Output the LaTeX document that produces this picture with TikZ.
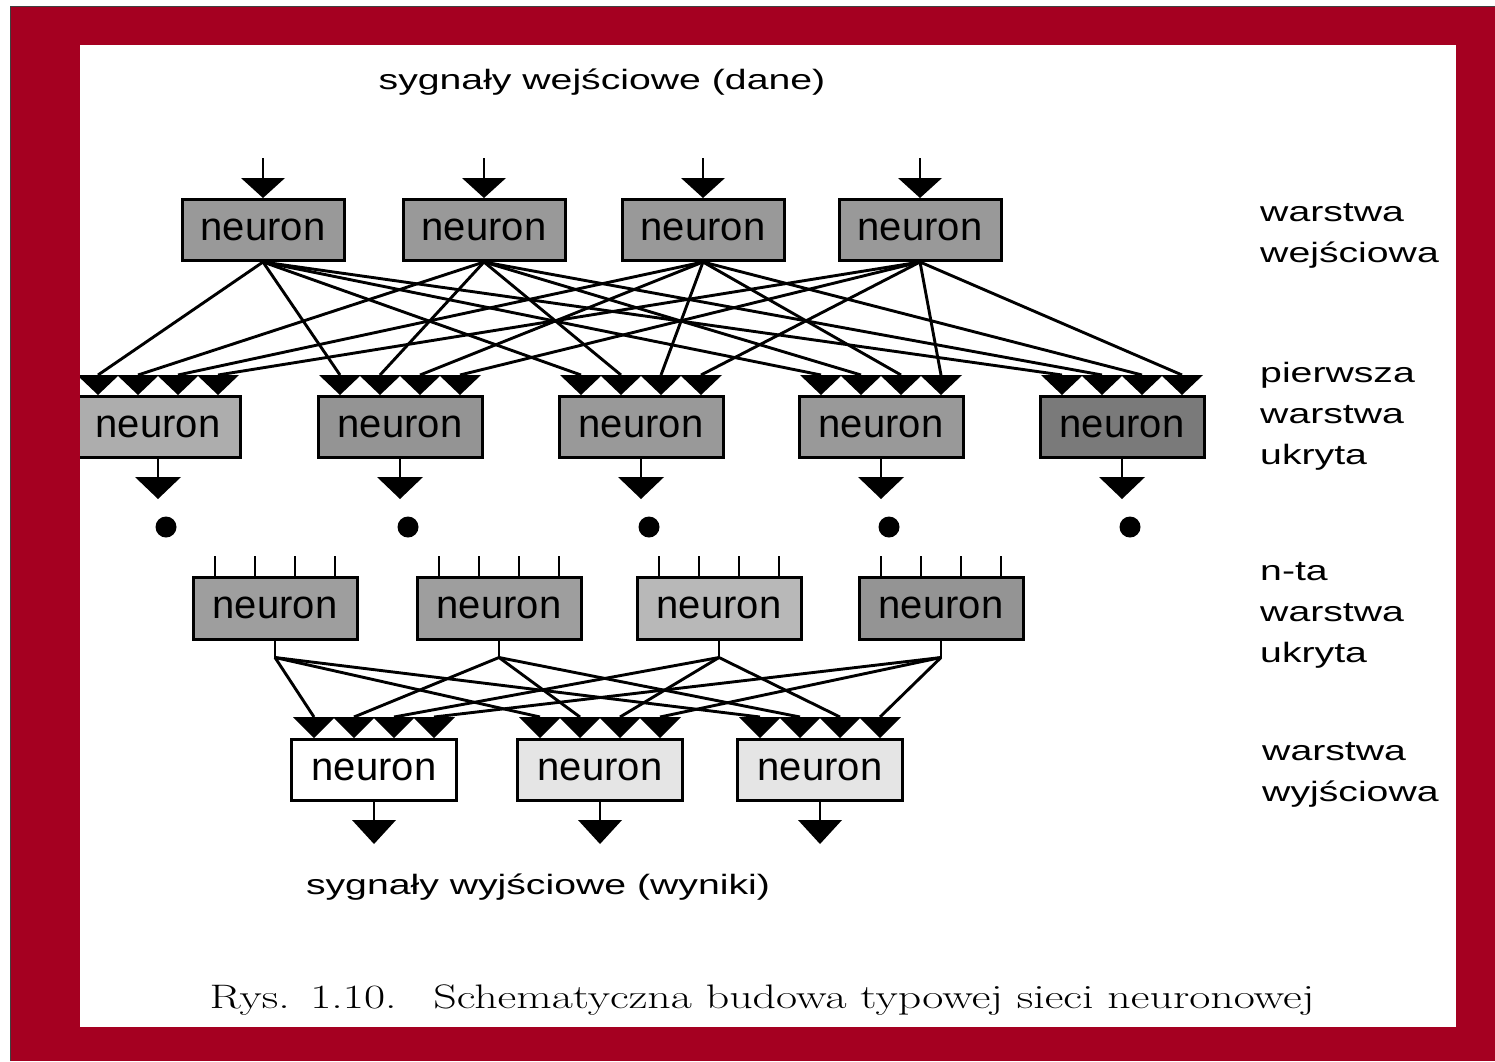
\documentclass[tikz,border=0pt]{standalone}
\usepackage{fontspec}
\newfontfamily\boxsans{Liberation Sans}
\newfontfamily\widesans[FakeStretch=1.4]{Liberation Sans}
\usetikzlibrary{calc}
\definecolor{framered}{HTML}{A50021}

\tikzset{
  nbox/.style={draw, line width=3pt, minimum width=162pt, minimum height=61pt,
    inner sep=0pt, font=\boxsans\fontsize{40}{40}\selectfont},
  conn/.style={line width=2.9pt},
  sigtext/.style={inner sep=0pt, font=\widesans\fontsize{28}{28}\selectfont},
  layerlabel/.style={inner sep=0pt, anchor=north west, align=left,
    font=\widesans\fontsize{28}{41}\selectfont},
  dotnode/.style={circle, fill, inner sep=0pt, minimum size=21pt},
  pics/arrowhd/.style args={#1/#2}{code={\fill (-#1,-#2) -- (#1,-#2) -- (0,0) -- cycle;}}
}

\begin{document}
\begin{tikzpicture}[x=1pt,y=-1pt]
\useasboundingbox (0,0) rectangle (1495,1061);
% page and red frame
\fill[white] (0,0) rectangle (1495,1061);
\fill[framered] (10,6) rectangle (1495,1061);
\draw[black!75, line width=1.5pt] (10.5,1061) -- (10.5,6.5) -- (1495,6.5);
\fill[white] (80,45) rectangle (1456,1027);

\begin{scope}
\clip (80,45) rectangle (1456,1027);

% input signals
\node[sigtext, anchor=base] (tin) at (602,89) {sygnały wejściowe (dane)};

% input layer
\node[nbox, fill=black!40] (in1) at (263,230) {neuron};
\node[nbox, fill=black!40] (in2) at (484,230) {neuron};
\node[nbox, fill=black!40] (in3) at (703,230) {neuron};
\node[nbox, fill=black!40] (in4) at (920,230) {neuron};

% first hidden layer
\node[nbox, minimum width=164pt, fill=black!32] (h1) at (158,427) {neuron};
\node[nbox, minimum width=164pt, fill=black!42] (h2) at (400,427) {neuron};
\node[nbox, minimum width=164pt, fill=black!40] (h3) at (641,427) {neuron};
\node[nbox, minimum width=164pt, fill=black!40] (h4) at (881,427) {neuron};
\node[nbox, minimum width=164pt, fill=black!52] (h5) at (1122,427) {neuron};

% n-th hidden layer
\node[nbox, minimum width=164pt, minimum height=62pt, fill=black!38] (n1) at (275,608) {neuron};
\node[nbox, minimum width=164pt, minimum height=62pt, fill=black!38] (n2) at (499,608) {neuron};
\node[nbox, minimum width=164pt, minimum height=62pt, fill=black!28] (n3) at (719,608) {neuron};
\node[nbox, minimum width=164pt, minimum height=62pt, fill=black!42] (n4) at (941,608) {neuron};

% output layer
\node[nbox, minimum width=165pt, fill=white]    (o1) at (374,770) {neuron};
\node[nbox, minimum width=165pt, fill=black!10] (o2) at (600,770) {neuron};
\node[nbox, minimum width=165pt, fill=black!10] (o3) at (820,770) {neuron};

% input arrows
\foreach \k in {1,...,4} {
  \coordinate (s\k) at ([yshift=40pt]in\k.north);
  \draw[conn] (s\k) -- ([yshift=20pt]in\k.north);
  \pic at (in\k.north) {arrowhd=22/20};
}

% inputs of the first hidden layer
\foreach \j in {1,...,5} {
  \foreach \i/\off in {1/-60,2/-20,3/20,4/60} {
    \coordinate (h\j t\i) at ([xshift=\off pt,yshift=20pt]h\j.north);
    \pic at ([xshift=\off pt]h\j.north) {arrowhd=21/20};
  }
}
\foreach \i in {1,...,4} {
  \foreach \j in {1,...,5} {
    \draw[conn] (in\i.south) -- (h\j t\i);
  }
}

% outputs of the first hidden layer and the dots
\foreach \j in {1,...,5} {
  \coordinate (h\j o) at ([yshift=-40pt]h\j.south);
  \draw[conn] (h\j.south) -- ([yshift=22pt]h\j o);
  \pic at (h\j o) {arrowhd=23/22};
  \node[dotnode] (d\j) at ([xshift=8pt,yshift=-68pt]h\j.south) {};
}

% input ticks of the n-th hidden layer
\foreach \j in {1,...,4} {
  \foreach \off in {-60,-20,20,60} {
    \draw[line width=2.2pt] ([xshift=\off pt]n\j.north) -- ([xshift=\off pt,yshift=20pt]n\j.north);
  }
}

% inputs of the output layer
\foreach \k in {1,...,3} {
  \foreach \i/\off in {1/-60,2/-20,3/20,4/60} {
    \coordinate (o\k t\i) at ([xshift=\off pt,yshift=21pt]o\k.north);
    \pic at ([xshift=\off pt]o\k.north) {arrowhd=21/21};
  }
}
\foreach \j in {1,...,4} {
  \coordinate (n\j j) at ([yshift=-17pt]n\j.south);
  \draw[conn] (n\j.south) -- (n\j j);
  \foreach \k in {1,...,3} {
    \draw[conn] (n\j j) -- (o\k t\j);
  }
}

% output arrows
\foreach \k in {1,...,3} {
  \coordinate (o\k o) at ([yshift=-42pt]o\k.south);
  \draw[conn] (o\k.south) -- ([yshift=24pt]o\k o);
  \pic at (o\k o) {arrowhd=22/24};
}

% output signals
\node[sigtext, anchor=base] (tout) at (538,894) {sygnały wyjściowe (wyniki)};
\end{scope}

% layer names
\node[layerlabel] (lin)  at (1260,203) {warstwa\\wejściowa};
\node[layerlabel] (lh1)  at (1260,362) {pierwsza\\warstwa\\ukryta};
\node[layerlabel] (lhn)  at (1260,562) {n-ta\\warstwa\\ukryta};
\node[layerlabel] (lout) at (1262,742) {warstwa\\wyjściowa};

% caption
\node[inner sep=0pt, anchor=base] (cap) at (762,1008)
  {\scalebox{1.35}[1]{\fontsize{34}{34}\selectfont Rys.\hspace{0.45em}1.10.\hspace{0.8em}Schematyczna budowa typowej sieci neuronowej}};
\end{tikzpicture}
\end{document}
